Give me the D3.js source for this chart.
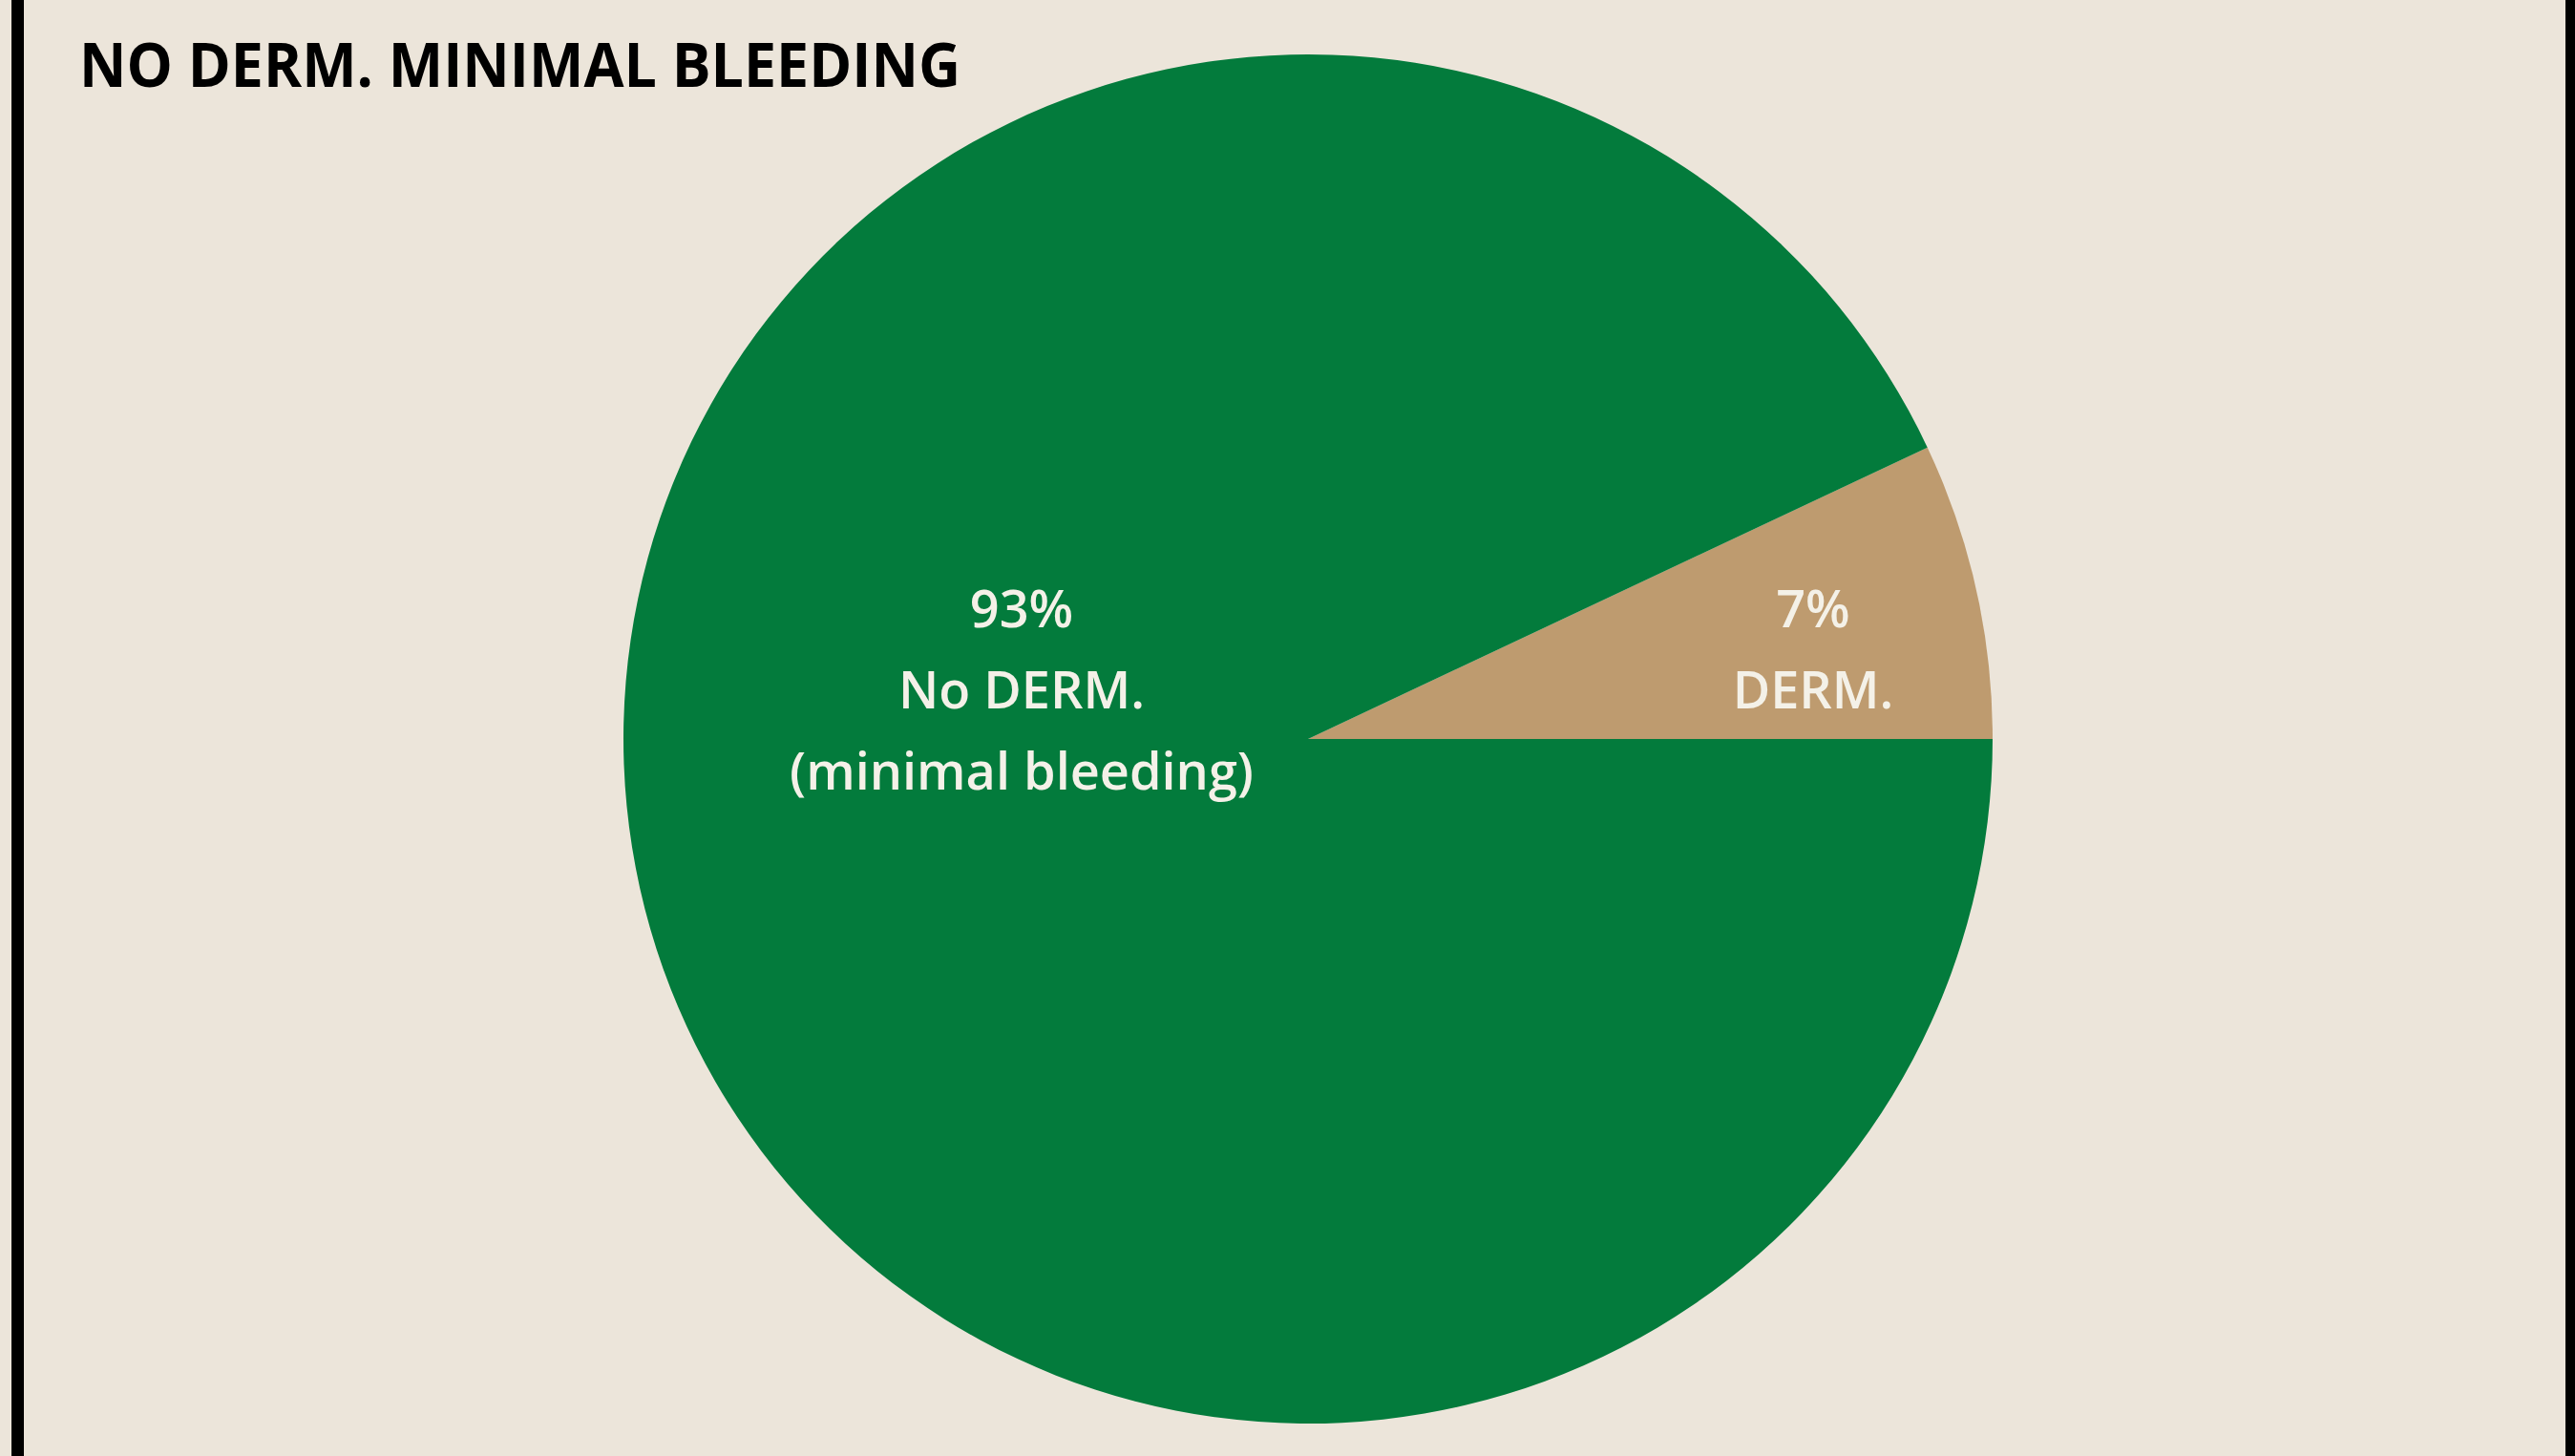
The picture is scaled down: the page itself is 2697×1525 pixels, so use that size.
<!DOCTYPE html>
<html>
<head>
<meta charset="utf-8">
<script src="https://cdn.jsdelivr.net/npm/d3@7"></script>
<style>
  html, body { margin: 0; padding: 0; background: #ECE5DA; }
  svg { display: block; }
</style>
</head>
<body>
<script>
const title = "NO DERM. MINIMAL BLEEDING";
const categories = ["DERM.", "No DERM."];
const values = [7, 93];
const labelLines = [["7%", "DERM."], ["93%", "No DERM.", "(minimal bleeding)"]];
const colors = ["#BE9B6F", "#037B3C"];

const W = 2697, H = 1525;
const svg = d3.select("body").append("svg").attr("width", W).attr("height", H);

svg.append("rect").attr("width", W).attr("height", H).attr("fill", "#ECE5DA");
// left & right frame bars
svg.append("rect").attr("x", 12).attr("y", 0).attr("width", 13).attr("height", H).attr("fill", "#000");
svg.append("rect").attr("x", 2687).attr("y", 0).attr("width", 10).attr("height", H).attr("fill", "#000");

svg.append("text")
  .attr("x", 83).attr("y", 91)
  .attr("font-family", "'Open Sans', sans-serif")
  .attr("font-weight", 700)
  .attr("font-size", 65)
  .attr("textLength", 923)
  .attr("lengthAdjust", "spacingAndGlyphs")
  .attr("fill", "#000")
  .text(title);

const cx = 1370, cy = 774, r = 717;
const total = d3.sum(values);
const start = Math.PI / 2 - (values[0] / total) * 2 * Math.PI;
const pie = d3.pie().sort(null).value(d => d).startAngle(start).endAngle(start + 2 * Math.PI);
const arcs = pie(values);
const arc = d3.arc().innerRadius(0).outerRadius(r);

const g = svg.append("g").attr("transform", `translate(${cx},${cy})`);
g.selectAll("path").data(arcs).join("path")
  .attr("d", arc)
  .attr("fill", (d, i) => colors[i]);

// labels
const labelPos = [[1899 - cx, 657 - cy], [1070 - cx, 657 - cy]];
const lineH = 85;
arcs.forEach((a, i) => {
  const t = g.append("text")
    .attr("text-anchor", "middle")
    .attr("font-family", "'Open Sans', sans-serif")
    .attr("font-weight", 600)
    .attr("font-size", 54)
    .attr("fill", "#F4F1E8");
  labelLines[i].forEach((ln, j) => {
    t.append("tspan").attr("x", labelPos[i][0]).attr("y", labelPos[i][1] + j * lineH).text(ln);
  });
});
</script>
</body>
</html>
